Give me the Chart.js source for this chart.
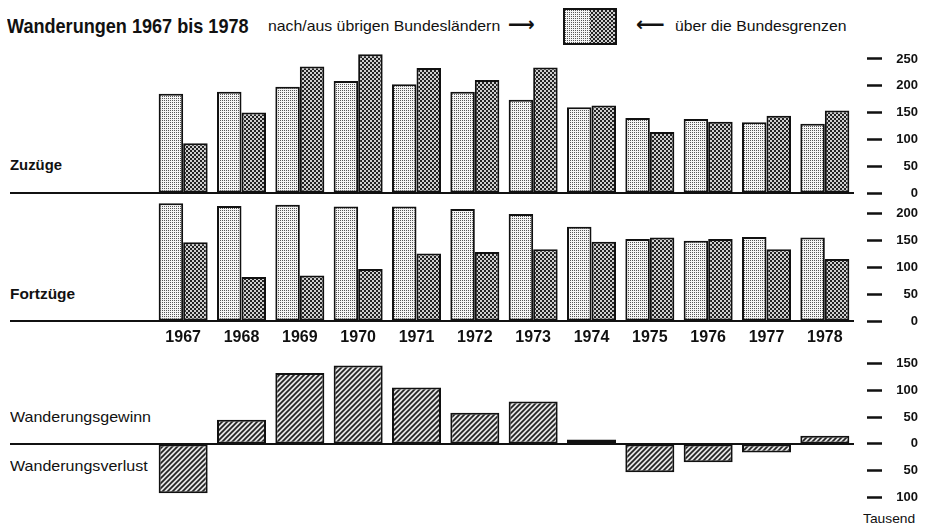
<!DOCTYPE html>
<html lang="de">
<head>
<meta charset="utf-8">
<script src="https://cdn.jsdelivr.net/npm/chart.js@4.4.1/dist/chart.umd.min.js"></script>
<style>
  html, body { margin: 0; padding: 0; background: #fff; }
  #wrap { position: relative; width: 928px; height: 526px; overflow: hidden; font-family: "Liberation Sans", Arial, sans-serif; color: #111; }
  canvas { position: absolute; left: 0; }
  .t { position: absolute; white-space: nowrap; transform-origin: left center; line-height: 1; }
</style>
</head>
<body>
<div id="wrap">
  <div class="t" data-w="242" style="left:7px;top:15px;font-size:21px;font-weight:bold">Wanderungen 1967 bis 1978</div>
  <div class="t" data-w="232" style="left:268px;top:18px;font-size:15px">nach/aus übrigen Bundesländern</div>
  <div class="t" data-w="27" style="left:508px;top:14px;font-size:20px;font-weight:bold;font-family:'DejaVu Sans'">⟶</div>
  <canvas id="leg" width="54" height="37" style="left:563px;top:8px"></canvas>
  <div class="t" data-w="29" style="left:636px;top:14px;font-size:20px;font-weight:bold;font-family:'DejaVu Sans'">⟵</div>
  <div class="t" data-w="171" style="left:675px;top:18px;font-size:15px">über die Bundesgrenzen</div>

  <div class="t" data-w="52" style="left:10px;top:158px;font-size:14px;font-weight:bold">Zuzüge</div>
  <div class="t" data-w="65" style="left:10px;top:287px;font-size:14px;font-weight:bold">Fortzüge</div>
  <div class="t" data-w="141" style="left:10px;top:409px;font-size:15px">Wanderungsgewinn</div>
  <div class="t" data-w="138" style="left:10px;top:458px;font-size:15px">Wanderungsverlust</div>
  <div class="t" data-w="52" style="left:863px;top:512px;font-size:13px">Tausend</div>

  <canvas id="cZu" width="928" height="162" style="top:40px"></canvas>
  <canvas id="cFo" width="928" height="166" style="top:190px"></canvas>
  <canvas id="cSa" width="928" height="163" style="top:349px"></canvas>
</div>
<script>
// Daten (Tausend)
const jahre = ['1967','1968','1969','1970','1971','1972','1973','1974','1975','1976','1977','1978'];
const zuLaender = [185, 189, 198, 209, 203, 189, 174, 160, 140, 138, 132, 129];
const zuAusland = [93, 150, 236, 259, 233, 211, 234, 163, 114, 133, 144, 154];
const fortLaender = [220, 215, 217, 214, 214, 209, 200, 176, 153, 150, 157, 156];
const fortAusland = [147, 82, 85, 97, 126, 129, 134, 148, 156, 153, 134, 116];
const saldo = [-92, 45, 132, 146, 105, 58, 79, 8, -53, -34, -16, 15];

// Raster wie im Druck
function muster(art) {
    const c = document.createElement('canvas');
    const g = c.getContext('2d');
    if (art === 'hell') {
        c.width = c.height = 4;
        g.fillStyle = '#f4f4f4'; g.fillRect(0, 0, 4, 4);
        g.fillStyle = '#555';
        g.fillRect(0, 0, 1, 1); g.fillRect(2, 2, 1, 1); g.fillRect(0, 2, 1, 1); g.fillRect(2, 0, 1, 1);
    } else if (art === 'dunkel') {
        c.width = c.height = 4;
        g.fillStyle = '#cfcfcf'; g.fillRect(0, 0, 4, 4);
        g.fillStyle = '#222'; g.fillRect(0, 0, 2, 2); g.fillRect(2, 2, 2, 2);
    } else {
        c.width = c.height = 5;
        g.fillStyle = '#e4e4e4'; g.fillRect(0, 0, 5, 5);
        g.strokeStyle = '#222'; g.lineWidth = 1.7;
        g.beginPath();
        g.moveTo(0, 5); g.lineTo(5, 0);
        g.moveTo(-1, 1); g.lineTo(1, -1);
        g.moveTo(4, 6); g.lineTo(6, 4);
        g.stroke();
    }
    return g.createPattern(c, 'repeat');
}
const pHell = muster('hell'), pDunkel = muster('dunkel'), pSchraff = muster('schraff');

// Legende
(() => {
    const g = document.getElementById('leg').getContext('2d');
    g.fillStyle = pHell; g.fillRect(1, 1, 26, 35);
    g.fillStyle = pDunkel; g.fillRect(27, 1, 26, 35);
    g.strokeStyle = '#111'; g.lineWidth = 2;
    g.strokeRect(1, 1, 52, 35);
})();

// Nulllinie, reicht links über die Zeichenfläche hinaus
const nullLinie = {
    id: 'nullLinie',
    afterDatasetsDraw(chart, args, opts) {
        const y = chart.scales.y.getPixelForValue(0);
        const ctx = chart.ctx;
        ctx.save();
        ctx.strokeStyle = '#111'; ctx.lineWidth = 2;
        ctx.beginPath(); ctx.moveTo(opts.von, y); ctx.lineTo(chart.chartArea.right, y); ctx.stroke();
        ctx.restore();
    }
};

function yAchse(min, max) {
    return {
        position: 'right', min, max,
        afterFit: s => { s.width = 64; },
        border: { display: false },
        grid: { drawOnChartArea: false, drawTicks: true, tickLength: 41, tickWidth: 2.5, tickColor: '#111', tickBorderDash: [0, 13, 15, 100] },
        ticks: { stepSize: 50, includeBounds: false, padding: 0, crossAlign: 'far', color: '#111',
                 font: { family: 'Liberation Sans', size: 13, weight: 'bold' }, callback: v => Math.abs(v) }
    };
}

function balken(id, datasets, yMin, yMax, mitJahren, pad, von) {
    return new Chart(document.getElementById(id), {
        type: 'bar',
        data: { labels: jahre, datasets },
        plugins: [nullLinie],
        options: {
            responsive: false, animation: false,
            layout: { padding: { left: 154, right: 10, top: pad[0], bottom: pad[1] } },
            plugins: { legend: { display: false }, tooltip: { enabled: false }, nullLinie: { von } },
            scales: {
                x: {
                    display: mitJahren,
                    afterFit: s => { if (mitJahren) s.height = 25; },
                    border: { display: false }, grid: { display: false, drawTicks: false },
                    ticks: { padding: 7, color: '#111', font: { family: 'Liberation Sans', size: 16, weight: 'bold' } }
                },
                y: yAchse(yMin, yMax)
            }
        }
    });
}

const stilHell = { backgroundColor: pHell, borderColor: '#111', borderWidth: 2, borderSkipped: false, categoryPercentage: 0.84, barPercentage: 1 };
const stilDunkel = { backgroundColor: pDunkel, borderColor: '#111', borderWidth: 2, borderSkipped: false, categoryPercentage: 0.84, barPercentage: 1 };

balken('cZu', [
    { label: 'nach/aus übrigen Bundesländern', data: zuLaender, ...stilHell },
    { label: 'über die Bundesgrenzen', data: zuAusland, ...stilDunkel }
], 0, 263, false, [12, 9], 10);

balken('cFo', [
    { label: 'nach/aus übrigen Bundesländern', data: fortLaender, ...stilHell },
    { label: 'über die Bundesgrenzen', data: fortAusland, ...stilDunkel }
], 0, 226, true, [10, 10], 10);

balken('cSa', [
    { label: 'Wanderungsgewinn / -verlust', data: saldo, backgroundColor: pSchraff, borderColor: '#111', borderWidth: 2,
      borderSkipped: false, categoryPercentage: 1, barPercentage: 0.84 }
], -110, 158, false, [10, 9], 10);

// Texte auf Breite der Vorlage bringen
document.querySelectorAll('.t[data-w]').forEach(el => {
    el.style.transform = 'scaleX(' + (el.dataset.w / el.offsetWidth) + ')';
});
</script>
</body>
</html>
